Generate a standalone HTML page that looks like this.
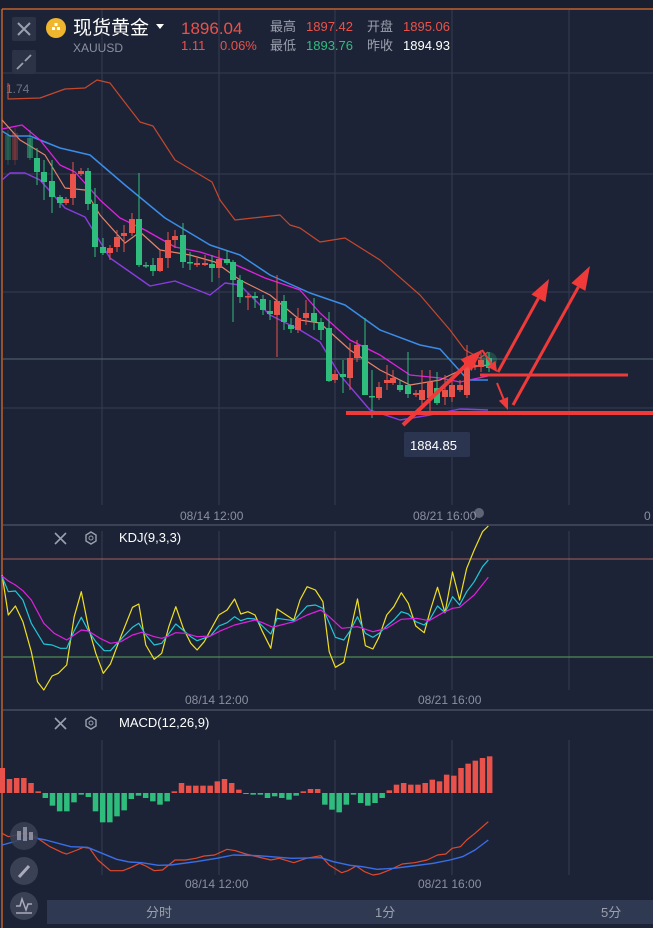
<!DOCTYPE html>
<html><head><meta charset="utf-8"><style>
html,body{margin:0;padding:0;background:#1d2336;width:653px;height:928px;overflow:hidden}
svg{display:block}
text{font-family:"Liberation Sans","Noto Sans CJK SC",sans-serif}
</style></head><body>
<svg id="s" width="653" height="928" viewBox="0 0 653 928" xmlns="http://www.w3.org/2000/svg">
<rect width="653" height="928" fill="#1d2336"/>
<rect x="0" y="0" width="653" height="8" fill="#1a1f2f"/>
<line x1="2" y1="9" x2="653" y2="9" stroke="#c0622a" stroke-width="1.5"/>
<line x1="2" y1="9" x2="2" y2="928" stroke="#c0622a" stroke-width="1.5"/>
<g stroke="#353c52" stroke-width="1">
<line x1="102" y1="10" x2="102" y2="505"/><line x1="219" y1="10" x2="219" y2="505"/><line x1="335" y1="10" x2="335" y2="505"/><line x1="452" y1="10" x2="452" y2="505"/><line x1="569" y1="10" x2="569" y2="505"/>
<line x1="102" y1="531" x2="102" y2="690"/><line x1="219" y1="531" x2="219" y2="690"/><line x1="335" y1="531" x2="335" y2="690"/><line x1="452" y1="531" x2="452" y2="690"/><line x1="569" y1="531" x2="569" y2="690"/>
<line x1="102" y1="740" x2="102" y2="875"/><line x1="219" y1="740" x2="219" y2="875"/><line x1="335" y1="740" x2="335" y2="875"/><line x1="452" y1="740" x2="452" y2="875"/><line x1="569" y1="740" x2="569" y2="875"/>
<line x1="3" y1="73" x2="653" y2="73"/><line x1="3" y1="174" x2="653" y2="174"/><line x1="3" y1="292" x2="653" y2="292"/><line x1="3" y1="408" x2="653" y2="408"/>
</g>
<line x1="3" y1="359" x2="653" y2="359" stroke="#4f6a70" stroke-width="1"/>
<line x1="3" y1="525" x2="653" y2="525" stroke="#5a6175" stroke-width="1"/>
<line x1="3" y1="710" x2="653" y2="710" stroke="#5a6175" stroke-width="1"/>
<line x1="3" y1="559" x2="653" y2="559" stroke="#a8605e" stroke-width="1"/>
<line x1="3" y1="657" x2="653" y2="657" stroke="#5aa45a" stroke-width="1"/>
<g id="g"></g>
<rect x="12" y="17" width="24" height="24" rx="2" fill="#2c3347"/>
<path d="M18 23 L30 35 M30 23 L18 35" stroke="#9aa0ad" stroke-width="2"/>
<rect x="12" y="50" width="24" height="24" rx="2" fill="#2c3347"/>
<path d="M17 69 L23 63 M31 55 L25 61" stroke="#9aa0ad" stroke-width="1.8"/>
<circle cx="56" cy="28" r="10" fill="#f0b72e"/>
<rect x="52" y="27" width="3" height="3" fill="#fff"/><rect x="57" y="27" width="3" height="3" fill="#fff"/><rect x="54.5" y="23" width="3" height="3" fill="#fff"/>
<text x="73" y="34" font-size="19" fill="#ffffff">现货黄金</text>
<path d="M156 24 L164 24 L160 29 Z" fill="#ffffff"/>
<text x="73" y="52" font-size="12" fill="#8a90a0">XAUUSD</text>
<text x="181" y="34" font-size="17" fill="#e9524a">1896.04</text>
<text x="181" y="50" font-size="13" fill="#e9524a">1.11</text>
<text x="220" y="50" font-size="13" fill="#e9524a">0.06%</text>
<text x="270" y="31" font-size="13" fill="#9aa0ad">最高</text>
<text x="306" y="31" font-size="13" fill="#e9524a">1897.42</text>
<text x="367" y="31" font-size="13" fill="#9aa0ad">开盘</text>
<text x="403" y="31" font-size="13" fill="#e9524a">1895.06</text>
<text x="270" y="50" font-size="13" fill="#9aa0ad">最低</text>
<text x="306" y="50" font-size="13" fill="#2fbd7e">1893.76</text>
<text x="367" y="50" font-size="13" fill="#9aa0ad">昨收</text>
<text x="403" y="50" font-size="13" fill="#ffffff">1894.93</text>
<text x="6" y="93" font-size="12" fill="#6d7385">1.74</text>
<g font-size="12" fill="#8a90a0">
<text x="180" y="520">08/14 12:00</text><text x="413" y="520">08/21 16:00</text><text x="644" y="520">0</text>
<text x="185" y="704">08/14 12:00</text><text x="418" y="704">08/21 16:00</text>
<text x="185" y="888">08/14 12:00</text><text x="418" y="888">08/21 16:00</text>
</g>
<circle cx="479" cy="513" r="5" fill="#8a90a0" opacity="0.6"/>
<path d="M55 533 L66 544 M66 533 L55 544" stroke="#9aa0ad" stroke-width="1.6"/>
<path d="M91 532 L96 535 L96 541 L91 544 L86 541 L86 535 Z" stroke="#9aa0ad" fill="none" stroke-width="1.4"/><circle cx="91" cy="538" r="2" stroke="#9aa0ad" fill="none"/>
<text x="119" y="542" font-size="13" fill="#ffffff">KDJ(9,3,3)</text>
<path d="M55 718 L66 729 M66 718 L55 729" stroke="#9aa0ad" stroke-width="1.6"/>
<path d="M91 717 L96 720 L96 726 L91 729 L86 726 L86 720 Z" stroke="#9aa0ad" fill="none" stroke-width="1.4"/><circle cx="91" cy="723" r="2" stroke="#9aa0ad" fill="none"/>
<text x="119" y="727" font-size="13" fill="#ffffff">MACD(12,26,9)</text>
<rect x="47" y="900" width="606" height="24" fill="#2f3a52"/>
<g font-size="13" fill="#9aa0ad"><text x="146" y="917">分时</text><text x="375" y="917">1分</text><text x="601" y="917">5分</text></g>
<circle cx="24" cy="836" r="14" fill="#3a4155" opacity="0.85"/>
<rect x="17" y="831" width="4" height="9" fill="#aab" opacity="0.7"/><rect x="23" y="827" width="4" height="14" fill="#aab" opacity="0.7"/><rect x="29" y="832" width="4" height="8" fill="#aab" opacity="0.7"/>
<circle cx="24" cy="871" r="14" fill="#3a4155"/>
<path d="M19 877 L29 866" stroke="#aab" stroke-width="3"/>
<circle cx="24" cy="906" r="14" fill="#3a4155"/>
<path d="M16 906 L20 906 L22 899 L26 910 L28 904 L32 904" stroke="#aab" stroke-width="1.5" fill="none"/><line x1="16" y1="913" x2="32" y2="913" stroke="#aab" stroke-width="1.5"/>
<rect x="404" y="432" width="66" height="25" rx="2" fill="#2c3550"/>
<text x="410" y="450" font-size="13" fill="#ffffff">1884.85</text>
</svg>
<script>
var g=document.getElementById('g'),NS='http://www.w3.org/2000/svg';
function el(t,a){var e=document.createElementNS(NS,t);for(var k in a)e.setAttribute(k,a[k]);g.appendChild(e);return e;}
function pl(p,c,w,sx,sy,ox,oy){var s=[];for(var i=0;i<p.length;i+=2)s.push((p[i]/sx+ox).toFixed(1)+','+(p[i+1]/sy+oy).toFixed(1));el('polyline',{points:s.join(' '),fill:'none',stroke:c,'stroke-width':w,'stroke-linejoin':'round'});}
pl([8,83,8,99,40,98,65,89,85,88,97,80,110,83,123,100,140,122,153,126,175,160,212,182,220,200,235,220,280,215,290,225,300,228,320,242,345,238,380,260,420,295,450,330,465,350,480,358,488,352],'#c5482c',1.2,1,1,0,0);
pl([2,131,10,136,30,136,60,148,90,155,125,185,165,218,210,245,240,255,270,275,310,293,345,305,380,330,420,345,440,349,468,380,488,380],'#3a8de8',1.5,1,1,0,0);
pl([2,129,22,125,40,140,60,165,75,172,100,200,120,218,145,230,175,247,200,252,225,260,265,278,300,290,320,313,350,340,380,355,410,375,440,378,460,382,488,376],'#e020e0',1.3,1,1,0,0);
pl([2,120,20,140,45,155,65,188,85,190,100,215,125,243,140,232,160,250,190,255,215,262,240,280,270,295,300,320,320,323,350,350,380,370,410,385,440,380,465,368,488,365],'#e8846a',1.2,1,1,0,0);
pl([2,180,10,173,25,173,40,180,65,208,85,217,110,258,150,286,175,281,210,295,225,283,240,285,270,315,300,330,320,342,340,375,370,410,400,420,430,415,460,409,488,410],'#8a3ce0',1.4,1,1,0,0);
var C=[[8,135,160,130,165,'g',.3],[15,133,160,128,165,'r',.3],[30,138,158,130,160,'g',.5],[37,158,172,148,185,'g'],[44,172,182,160,200,'g'],[52,181,197,160,213,'g'],[60,197,203,195,208,'g'],[66,199,203,197,205,'r'],[73,174,198,162,205,'r'],[81,171,174,168,176,'r'],[88,171,204,168,210,'g'],[95,204,247,188,257,'g'],[103,247,253,238,255,'g'],[110,248,253,245,260,'r'],[117,237,247,230,252,'r'],[124,233,236,225,252,'r'],[132,219,233,213,236,'r'],[139,219,265,173,267,'g'],[146,265,266,262,268,'g'],[153,265,271,258,276,'g'],[160,258,271,250,272,'r'],[168,240,258,232,268,'r'],[175,236,240,230,248,'r'],[183,235,262,223,268,'g'],[190,262,263,252,270,'g'],[197,263,265,258,267,'r'],[205,263,265,255,266,'r'],[212,264,268,255,282,'g'],[219,259,268,250,278,'r'],[227,259,263,250,265,'g'],[233,262,280,260,322,'g'],[240,280,297,275,303,'g'],[248,296,297,293,310,'r'],[255,296,298,292,308,'g'],[263,299,310,295,315,'g'],[270,311,314,300,320,'g'],[277,301,315,275,357,'r'],[284,301,322,295,330,'g'],[291,325,329,318,333,'g'],[298,318,330,308,333,'r'],[306,313,318,300,325,'r'],[314,313,322,298,330,'g'],[321,322,330,318,340,'g'],[329,328,381,312,382,'g'],[335,374,380,370,383,'r'],[343,374,377,360,393,'g'],[350,358,378,343,390,'r'],[357,345,358,340,362,'r'],[365,345,395,318,395,'g'],[372,396,397,370,418,'g'],[379,387,398,382,400,'r'],[387,380,383,365,390,'r'],[393,378,383,370,385,'r'],[400,385,390,380,392,'g'],[408,385,394,352,398,'g'],[416,393,395,390,397,'r'],[422,390,400,370,405,'r'],[430,382,398,370,412,'r'],[437,388,403,372,405,'g'],[445,390,397,375,405,'r'],[452,385,397,377,402,'r'],[460,385,390,380,392,'r'],[467,362,395,345,398,'r'],[475,365,367,360,370,'r'],[481,360,367,350,372,'r'],[489,358,368,352,372,'g']];
C.forEach(function(c){var col=c[5]=='r'?'#e9524a':'#2fbd7e',op=c[6]||1;
el('line',{x1:c[0],x2:c[0],y1:c[3],y2:c[4],stroke:col,'stroke-width':1,opacity:op});
el('rect',{x:c[0]-3,y:Math.min(c[1],c[2]),width:6,height:Math.max(1.5,Math.abs(c[2]-c[1])),fill:col,opacity:op});});
el('circle',{cx:489,cy:360,r:8,fill:'#2fbd7e',opacity:.25});
pl([5,225,20,345,37,318,55,365,75,455,90,545,105,570,125,528,140,520,160,495,178,350,195,275,212,380,230,460,248,520,265,492,290,410,318,322,333,312,350,435,370,478,388,460,405,380,422,320,440,385,458,430,473,450,490,425,525,345,545,330,563,297,578,342,595,335,612,345,630,395,650,445,665,327,705,360,720,300,737,260,757,270,775,305,790,455,805,502,825,487,840,400,858,297,877,437,895,447,910,410,928,345,945,320,963,278,980,310,998,378,1018,398,1033,330,1050,262,1068,338,1086,216,1103,300,1120,205,1138,150,1158,95,1172,78],'#f0e020',1.2,2.4,3,0,500);
pl([5,230,20,275,37,273,55,300,75,370,105,432,125,435,145,445,160,445,178,392,195,352,212,392,230,425,250,452,265,452,290,418,318,382,333,370,350,405,370,435,388,430,422,372,458,410,473,422,505,408,525,378,545,368,563,350,578,362,595,355,612,357,650,402,665,355,705,362,737,318,757,315,775,325,805,412,825,420,840,393,858,350,877,400,895,412,910,400,928,378,945,360,963,335,980,342,998,365,1018,375,1033,355,1050,318,1068,338,1086,290,1103,315,1120,275,1138,245,1158,200,1172,180],'#20c8d8',1.2,2.4,3,0,500);
pl([5,228,20,243,37,255,55,272,75,300,105,370,130,400,160,420,178,405,195,390,212,393,240,415,265,430,290,425,318,405,340,397,370,410,388,415,405,408,422,398,445,400,473,410,505,408,530,392,563,375,612,360,630,368,655,382,665,378,705,365,737,345,770,330,790,350,820,385,858,380,895,395,928,385,963,358,1000,355,1030,362,1060,340,1086,325,1103,322,1138,285,1172,232],'#e020e0',1.2,2.4,3,0,500);
var H=[75,42,45,45,30,5,-15,-38,-55,-55,-28,-5,-12,-55,-88,-88,-70,-52,-18,-8,-15,-25,-35,-25,5,30,22,22,22,22,35,42,30,10,-3,-5,-5,-15,-10,-15,-20,-8,5,12,12,-35,-50,-58,-35,-5,-30,-38,-30,-15,8,25,30,25,25,30,40,35,55,52,75,88,97,105,110];
H.forEach(function(v,i){var x=(5+i*17.2)/2.4,h=Math.abs(v)/3;el('rect',{x:x-2.5,y:v>0?793-h:793,width:5.5,height:Math.max(1,h),fill:v>0?'#e9524a':'#2fbd7e'});});
pl([5,370,20,380,40,375,60,368,85,380,120,410,150,428,160,432,185,420,200,412,215,415,235,450,265,482,295,482,315,472,335,460,350,468,370,482,390,480,420,450,445,450,470,445,490,438,515,435,545,418,565,422,590,432,610,438,650,450,670,445,705,458,735,445,770,437,790,465,820,488,835,482,855,468,875,485,895,495,910,492,935,480,965,462,995,458,1025,450,1050,435,1070,432,1085,415,1105,410,1120,390,1140,370,1172,335],'#e0482c',1.2,2.4,3,0,710);
pl([5,405,40,393,75,382,110,390,170,410,210,412,245,430,280,448,310,456,340,458,380,466,410,465,470,455,520,445,560,435,620,437,700,445,770,443,800,455,840,466,870,470,905,478,945,475,990,468,1040,460,1080,450,1110,440,1140,420,1172,390],'#3a6ee8',1.4,2.4,3,0,710);
var R='#f03a3a';
el('line',{x1:346,y1:413,x2:653,y2:413,stroke:R,'stroke-width':4});
el('line',{x1:480,y1:375,x2:628,y2:375,stroke:R,'stroke-width':3});
function arrow(x1,y1,x2,y2,w,hl,hw){var dx=x2-x1,dy=y2-y1,L=Math.hypot(dx,dy),ux=dx/L,uy=dy/L,bx=x2-ux*hl,by=y2-uy*hl;
el('line',{x1:x1,y1:y1,x2:bx,y2:by,stroke:R,'stroke-width':w});
el('polygon',{points:x2+','+y2+' '+(bx-uy*hw)+','+(by+ux*hw)+' '+(bx+uy*hw)+','+(by-ux*hw),fill:R});}
arrow(403,425,482,350,4,22,8);
arrow(498,372,549,279,3,22,8);
arrow(513,405,590,266,3,24,8);
arrow(482,350,497,372,2,10,5);
arrow(497,383,508,410,2,12,5);
</script>
</body></html>
